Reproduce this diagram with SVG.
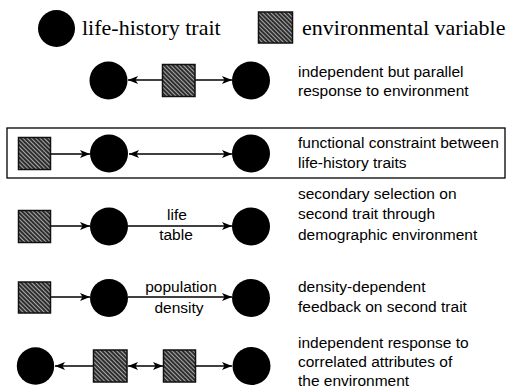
<svg xmlns="http://www.w3.org/2000/svg" width="512" height="391" viewBox="0 0 512 391">
<style>
.trait{fill:#000}
.env{fill:url(#hatch);stroke:#111;stroke-width:1.5}
.leg{font-family:"Liberation Serif","Times New Roman",serif;font-size:22px;fill:#000}
.desc{font-family:"Liberation Sans",Arial,sans-serif;font-size:15.5px;fill:#000}
.lab{font-family:"Liberation Sans",Arial,sans-serif;font-size:15.5px;fill:#000;text-anchor:middle}
.edge{stroke:#000;stroke-width:1.6;fill:none}
.frame{fill:none;stroke:#000;stroke-width:1.3}
</style>
<defs>
<pattern id="hatch" patternUnits="userSpaceOnUse" width="3" height="3" patternTransform="rotate(45)">
<rect width="3" height="3" fill="#2e2e2e"/>
<rect width="3" height="1" fill="#a8a8a8"/>
</pattern>
<marker id="ah" viewBox="0 0 10 8" refX="10" refY="4" markerWidth="10" markerHeight="8" markerUnits="userSpaceOnUse" orient="auto-start-reverse">
<path d="M0,0 L10,4 L0,8 L2.5,4 Z" fill="#000"/>
</marker>
</defs>

<g id="legend">
<circle class="trait" cx="56.5" cy="28.5" r="18.5"/>
<text class="leg" x="82" y="35">life-history trait</text>
<rect class="env" x="258.5" y="12" width="34" height="31"/>
<text class="leg" x="302" y="35">environmental variable</text>
</g>

<rect class="frame" x="7" y="128" width="498" height="50"/>

<g id="connectors">
<line class="edge" x1="162" y1="80" x2="128" y2="80" marker-end="url(#ah)"/>
<line class="edge" x1="195" y1="80" x2="232" y2="80" marker-end="url(#ah)"/>
<line class="edge" x1="51" y1="154" x2="90" y2="154" marker-end="url(#ah)"/>
<line class="edge" x1="129" y1="154" x2="232" y2="154" marker-start="url(#ah)" marker-end="url(#ah)"/>
<line class="edge" x1="51" y1="226" x2="90" y2="226" marker-end="url(#ah)"/>
<line class="edge" x1="128" y1="226" x2="232" y2="226" marker-end="url(#ah)"/>
<line class="edge" x1="51" y1="297" x2="90" y2="297" marker-end="url(#ah)"/>
<line class="edge" x1="128" y1="297" x2="232" y2="297" marker-end="url(#ah)"/>
<line class="edge" x1="93" y1="366" x2="55" y2="366" marker-end="url(#ah)"/>
<line class="edge" x1="128" y1="366" x2="163" y2="366" marker-start="url(#ah)" marker-end="url(#ah)"/>
<line class="edge" x1="195" y1="366" x2="232" y2="366" marker-end="url(#ah)"/>
<text class="lab" x="177" y="220">life</text>
<text class="lab" x="176" y="240">table</text>
<text class="lab" x="181" y="292">population</text>
<text class="lab" x="179" y="313">density</text>
</g>

<g id="row1">
<circle id="r1-t1" class="trait" cx="108.5" cy="80.5" r="19"/>
<rect id="r1-e" class="env" x="162.5" y="64.5" width="32.5" height="32"/>
<circle id="r1-t2" class="trait" cx="251" cy="80.5" r="19"/>
<text class="desc" x="298" y="77">independent but parallel</text>
<text class="desc" x="298" y="96">response to environment</text>
</g>

<g id="row2">
<rect id="r2-e" class="env" x="18.5" y="137.5" width="32" height="32"/>
<circle id="r2-t1" class="trait" cx="109" cy="153.5" r="19"/>
<circle id="r2-t2" class="trait" cx="251" cy="153.5" r="19"/>
<text class="desc" x="298" y="148">functional constraint between</text>
<text class="desc" x="298" y="168">life-history traits</text>
</g>

<g id="row3">
<rect id="r3-e" class="env" x="18.5" y="210.5" width="32" height="32"/>
<circle id="r3-t1" class="trait" cx="109" cy="226.5" r="19"/>
<circle id="r3-t2" class="trait" cx="251" cy="226.5" r="19"/>
<text class="desc" x="298" y="199">secondary selection on</text>
<text class="desc" x="298" y="219">second trait through</text>
<text class="desc" x="298" y="240">demographic environment</text>
</g>

<g id="row4">
<rect id="r4-e" class="env" x="18.5" y="282" width="32" height="31"/>
<circle id="r4-t1" class="trait" cx="109" cy="298" r="19"/>
<circle id="r4-t2" class="trait" cx="251" cy="298" r="19"/>
<text class="desc" x="298" y="292">density-dependent</text>
<text class="desc" x="298" y="312">feedback on second trait</text>
</g>

<g id="row5">
<circle id="r5-t1" class="trait" cx="35.5" cy="366" r="18.7"/>
<rect id="r5-e1" class="env" x="93.5" y="350" width="33.5" height="32"/>
<rect id="r5-e2" class="env" x="163.5" y="350" width="32" height="32"/>
<circle id="r5-t2" class="trait" cx="251.5" cy="366" r="19"/>
<text class="desc" x="298" y="348">independent response to</text>
<text class="desc" x="298" y="367">correlated attributes of</text>
<text class="desc" x="298" y="386">the environment</text>
</g>
</svg>
